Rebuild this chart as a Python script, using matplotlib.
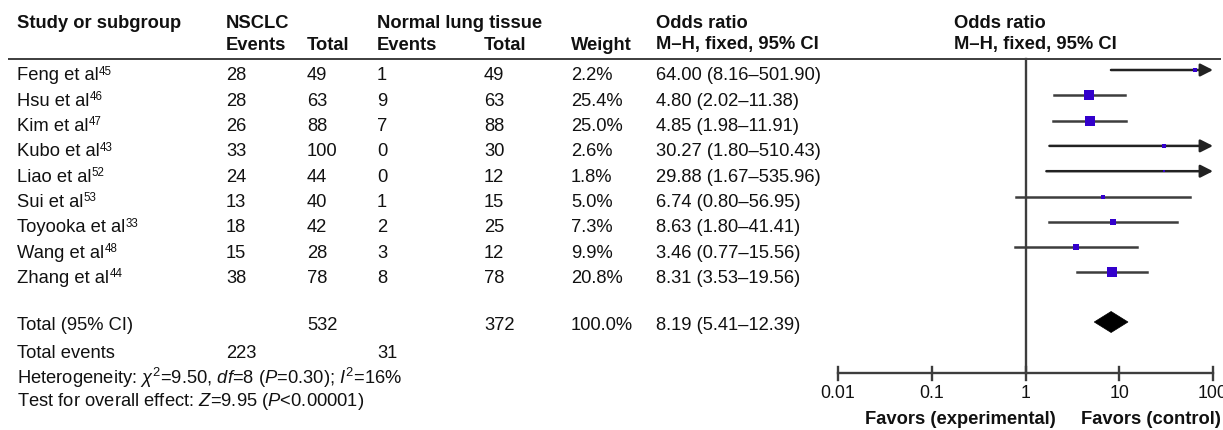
#!/usr/bin/env python3
# -*- coding: utf-8 -*-
"""Forest plot: NSCLC vs normal lung tissue (M-H fixed odds ratio)."""
import matplotlib
matplotlib.use("Agg")
import matplotlib.pyplot as plt
import matplotlib.patches as mp
import numpy as np

# ---- data -----------------------------------------------------------------
studies = ["Feng et al", "Hsu et al", "Kim et al", "Kubo et al", "Liao et al",
           "Sui et al", "Toyooka et al", "Wang et al", "Zhang et al"]
refs = ["45", "46", "47", "43", "52", "53", "33", "48", "44"]
nsclc_events = [28, 28, 26, 33, 24, 13, 18, 15, 38]
nsclc_total = [49, 63, 88, 100, 44, 40, 42, 28, 78]
normal_events = [1, 9, 7, 0, 0, 1, 2, 3, 8]
normal_total = [49, 63, 88, 30, 12, 15, 25, 12, 78]
weights = [2.2, 25.4, 25.0, 2.6, 1.8, 5.0, 7.3, 9.9, 20.8]
odds = [64.00, 4.80, 4.85, 30.27, 29.88, 6.74, 8.63, 3.46, 8.31]
ci_low = [8.16, 2.02, 1.98, 1.80, 1.67, 0.80, 1.80, 0.77, 3.53]
ci_high = [501.90, 11.38, 11.91, 510.43, 535.96, 56.95, 41.41, 15.56, 19.56]

total_or, total_lo, total_hi = 8.19, 5.41, 12.39
total_n = [532, 372]
total_ev = [223, 31]
ticks = [0.01, 0.1, 1, 10, 100]
tick_labels = ["0.01", "0.1", "1", "10", "100"]

# ---- style ----------------------------------------------------------------
INK, LINE, MARK = "#111111", "#3d3d3d", "#3300CC"
FS = 13.2
plt.rcParams.update({"font.family": ["Liberation Sans", "DejaVu Sans"],
                     "mathtext.fontset": "custom",
                     "mathtext.rm": "Liberation Sans",
                     "mathtext.it": "Liberation Sans:italic",
                     "mathtext.bf": "Liberation Sans:bold",
                     "text.color": INK})

W, H = 1223, 430
ROW0, ROWH = 70, 25.3         # forest rows (pixel y of CI lines)
TXT_DY = 10.5                 # CI line -> text baseline
X_STUDY, X_NE, X_NT, X_CE, X_CT, X_W, X_OR, X_FOR = 17, 226, 307, 377, 484, 571, 656, 954
FX0, FX1 = 838, 1213          # pixel span of 0.01 .. 100
Y_AX = 373


def txt(ax, x, y, s, bold=False, size=FS, ha="left"):
    # y is the baseline (pixel rows, top = 0)
    return ax.text(x, y, s, ha=ha, va="baseline", fontsize=size,
                   fontweight="bold" if bold else "normal")


def main():
    fig = plt.figure(figsize=(W / 100, H / 100), dpi=100)
    ax = fig.add_axes([0, 0, 1, 1])
    ax.set_xlim(0, W)
    ax.set_ylim(H, 0)
    ax.axis("off")

    # header
    for x, y, s in [(X_STUDY, 27.5, "Study or subgroup"), (X_NE, 27.5, "NSCLC"),
                    (X_NE, 49.5, "Events"), (X_NT, 49.5, "Total"),
                    (X_CE, 28, "Normal lung tissue"), (X_CE, 49.5, "Events"),
                    (X_CT, 49.5, "Total"), (X_W, 49.5, "Weight"),
                    (X_OR, 27.5, "Odds ratio"), (X_OR, 49.5, "M\u2013H, fixed, 95% CI"),
                    (X_FOR, 27.5, "Odds ratio"), (X_FOR, 49.5, "M\u2013H, fixed, 95% CI")]:
        txt(ax, x, y, s, bold=True)
    ax.plot([8, 1221], [59, 59], color=LINE, lw=1.4, solid_capstyle="butt")

    rows_y = [ROW0 + ROWH * i for i in range(len(studies))]
    for i, y in enumerate(rows_y):
        b = y + TXT_DY
        t = txt(ax, X_STUDY, b, studies[i])
        # superscript reference number, top just above the cap line
        ax.annotate(refs[i], xy=(1, 1), xycoords=t, xytext=(0.3, 1.2),
                    textcoords="offset points", ha="left", va="top", fontsize=8.3)
        txt(ax, X_NE, b, str(nsclc_events[i]))
        txt(ax, X_NT, b, str(nsclc_total[i]))
        txt(ax, X_CE, b, str(normal_events[i]))
        txt(ax, X_CT, b, str(normal_total[i]))
        txt(ax, X_W, b, f"{weights[i]:.1f}%")
        txt(ax, X_OR, b, f"{odds[i]:.2f} ({ci_low[i]:.2f}\u2013{ci_high[i]:.2f})")

    y_tot = 322
    b = y_tot + 7.5
    txt(ax, X_STUDY, b, "Total (95% CI)")
    txt(ax, X_NT, b, str(total_n[0]))
    txt(ax, X_CT, b, str(total_n[1]))
    txt(ax, X_W, b, "100.0%")
    txt(ax, X_OR, b, f"{total_or:.2f} ({total_lo:.2f}\u2013{total_hi:.2f})")
    txt(ax, X_STUDY, 357.5, "Total events")
    txt(ax, X_NE, 357.5, str(total_ev[0]))
    txt(ax, X_CE, 357.5, str(total_ev[1]))
    txt(ax, X_STUDY, 383.5, "Heterogeneity: $\\chi^2$=9.50, $df$=8 ($P$=0.30); $I^2$=16%")
    txt(ax, X_STUDY, 406.5, "Test for overall effect: $Z$=9.95 ($P$<0.00001)")

    # forest panel, log x, same pixel rows as the table
    fx = fig.add_axes([FX0 / W, 0, (FX1 - FX0) / W, 1])
    fx.set_xscale("log")
    fx.set_xlim(ticks[0], ticks[-1])
    fx.set_ylim(H, 0)
    fx.axis("off")
    fx.patch.set_alpha(0)

    fx.plot([1, 1], [59, Y_AX], color=LINE, lw=1.7)
    fx.plot([ticks[0], ticks[-1]], [Y_AX, Y_AX], color=LINE, lw=1.7, clip_on=False)
    for t, lab in zip(ticks, tick_labels):
        fx.plot([t, t], [Y_AX - 6.5, Y_AX + 6.5], color=LINE, lw=1.7, clip_on=False)
        fx.text(t, 398.5, lab, ha="center", va="baseline", fontsize=12.8)
    fx.text(0.2, 424.5, "Favors (experimental)", ha="center", va="baseline",
            fontsize=FS, fontweight="bold")
    fx.text(22, 424.5, "Favors (control)", ha="center", va="baseline",
            fontsize=FS, fontweight="bold")

    for i, y in enumerate(rows_y):
        hi = ci_high[i]
        if hi > ticks[-1]:
            fx.annotate("", xy=(ticks[-1], y), xytext=(ci_low[i], y),
                        arrowprops=dict(arrowstyle="-|>,head_length=0.75,head_width=0.38",
                                        color="#222222", lw=1.8, shrinkA=0, shrinkB=0),
                        annotation_clip=False)
        else:
            fx.plot([ci_low[i], hi], [y, y], color=LINE, lw=1.8)
        side = 2.1 * np.sqrt(weights[i])
        fx.plot(odds[i], y, marker="s", ms=side * 0.72, color=MARK, mew=0, zorder=3)

    dh = 10.5
    fx.add_patch(mp.Polygon([(total_lo, y_tot), (total_or, y_tot - dh),
                             (total_hi, y_tot), (total_or, y_tot + dh)],
                            closed=True, fc="black", ec="black", lw=0.5))

    fig.savefig("out.png", dpi=100, facecolor="white")
    plt.close(fig)


if __name__ == "__main__":
    main()
